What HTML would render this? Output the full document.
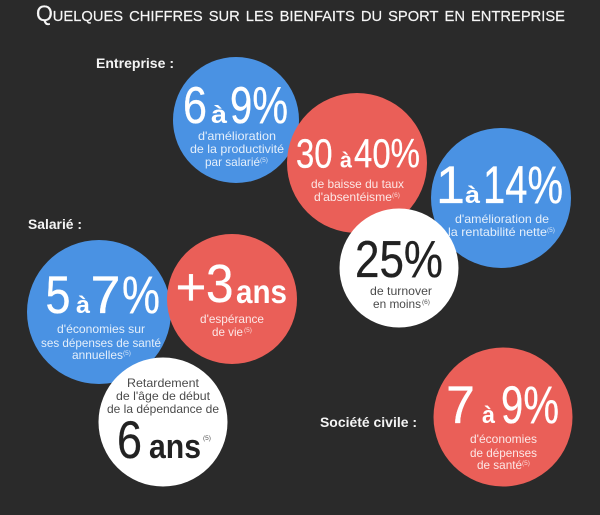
<!DOCTYPE html>
<html lang="fr">
<head>
<meta charset="utf-8">
<title>Quelques chiffres sur les bienfaits du sport en entreprise</title>
<style>
html,body{margin:0;padding:0;background:#2a2a2a;}
svg{display:block;}
text{font-family:"Liberation Sans","DejaVu Sans",sans-serif;}
.t{font-size:12px;fill:#fff;fill-opacity:.85;}
.d{font-size:12px;fill:#2a2a2a;fill-opacity:.85;}
.s{font-size:6px;fill:#fff;fill-opacity:.75;}
.sd{font-size:6px;fill:#555;}
.h{font-size:14px;font-weight:bold;fill:#f4f4f4;}
.b{fill:#fff;}
.k{fill:#222;}
.a{font-weight:bold;}
.wn{fill:#fff;stroke:#fff;stroke-width:.3;stroke-linejoin:round;}
.kn{fill:#222;stroke:#222;stroke-width:.3;stroke-linejoin:round;}
</style>
</head>
<body>
<svg width="600" height="515" viewBox="0 0 600 515" xmlns="http://www.w3.org/2000/svg">
<rect width="600" height="515" fill="#2a2a2a"/>
<text x="36" y="21" textLength="529" lengthAdjust="spacingAndGlyphs" style="font-size:22px;font-variant:small-caps;fill:#f6f6f6;stroke:#f6f6f6;stroke-width:.2">Quelques chiffres sur les bienfaits du sport en entreprise</text>

<text class="h" x="96" y="68" textLength="78" lengthAdjust="spacingAndGlyphs">Entreprise :</text>
<text class="h" x="28" y="229" textLength="54" lengthAdjust="spacingAndGlyphs">Salarié :</text>
<text class="h" x="320" y="427" textLength="97" lengthAdjust="spacingAndGlyphs">Société civile :</text>

<g>
<circle cx="236" cy="120" r="63" fill="#4a92e3"/>
<text class="wn" x="183" y="123" textLength="24" lengthAdjust="spacingAndGlyphs" font-size="52">6</text>
<text class="b a" x="211" y="123" textLength="16" lengthAdjust="spacingAndGlyphs" font-size="25">à</text>
<text class="wn" x="230" y="123" textLength="58" lengthAdjust="spacingAndGlyphs" font-size="52">9%</text>
<text class="t" x="198" y="140" textLength="78" lengthAdjust="spacingAndGlyphs">d'amélioration</text>
<text class="t" x="190" y="153" textLength="94" lengthAdjust="spacingAndGlyphs">de la productivité</text>
<text class="t" x="205" y="166" textLength="55" lengthAdjust="spacingAndGlyphs">par salarié</text>
<text class="s" x="260" y="162" textLength="8" lengthAdjust="spacingAndGlyphs">(5)</text>
</g>

<g>
<circle cx="357" cy="163" r="70" fill="#ea5f58"/>
<text class="wn" x="296" y="167.500" textLength="36.500" lengthAdjust="spacingAndGlyphs" font-size="41">30</text>
<text class="b a" x="340" y="167.500" textLength="12" lengthAdjust="spacingAndGlyphs" font-size="22">à</text>
<text class="wn" x="354" y="167.500" textLength="66" lengthAdjust="spacingAndGlyphs" font-size="41">40%</text>
<text class="t" x="311" y="188" textLength="93" lengthAdjust="spacingAndGlyphs">de baisse du taux</text>
<text class="t" x="314" y="201" textLength="78" lengthAdjust="spacingAndGlyphs">d'absentéisme</text>
<text class="s" x="392" y="197" textLength="8" lengthAdjust="spacingAndGlyphs">(6)</text>
</g>

<g>
<circle cx="501" cy="198" r="70" fill="#4a92e3"/>
<text class="wn" x="436" y="203" textLength="29" lengthAdjust="spacingAndGlyphs" font-size="53">1</text>
<text class="b a" x="465" y="203" textLength="15" lengthAdjust="spacingAndGlyphs" font-size="24">à</text>
<text class="wn" x="483" y="203" textLength="80" lengthAdjust="spacingAndGlyphs" font-size="53">14%</text>
<text class="t" x="455" y="223" textLength="94" lengthAdjust="spacingAndGlyphs">d'amélioration de</text>
<text class="t" x="448" y="236" textLength="99" lengthAdjust="spacingAndGlyphs">la rentabilité nette</text>
<text class="s" x="547" y="232" textLength="8" lengthAdjust="spacingAndGlyphs">(5)</text>
</g>

<g>
<circle cx="399" cy="268" r="59.500" fill="#fff"/>
<text class="kn" x="355" y="277" textLength="88" lengthAdjust="spacingAndGlyphs" font-size="52">25%</text>
<text class="d" x="370" y="295" textLength="62" lengthAdjust="spacingAndGlyphs">de turnover</text>
<text class="d" x="373" y="308" textLength="48" lengthAdjust="spacingAndGlyphs">en moins</text>
<text class="sd" x="422" y="304" textLength="8" lengthAdjust="spacingAndGlyphs">(6)</text>
</g>

<g>
<circle cx="99" cy="312" r="72" fill="#4a92e3"/>
<text class="wn" x="45.500" y="313" textLength="25" lengthAdjust="spacingAndGlyphs" font-size="53">5</text>
<text class="b a" x="76" y="313" textLength="14" lengthAdjust="spacingAndGlyphs" font-size="24">à</text>
<text class="wn" x="90.500" y="313" textLength="30" lengthAdjust="spacingAndGlyphs" font-size="53">7</text>
<text class="wn" x="122" y="313" textLength="38" lengthAdjust="spacingAndGlyphs" font-size="53">%</text>
<text class="t" x="57" y="333" textLength="88" lengthAdjust="spacingAndGlyphs">d'économies sur</text>
<text class="t" x="41" y="347" textLength="120" lengthAdjust="spacingAndGlyphs">ses dépenses de santé</text>
<text class="t" x="72" y="359" textLength="51" lengthAdjust="spacingAndGlyphs">annuelles</text>
<text class="s" x="123" y="355" textLength="8" lengthAdjust="spacingAndGlyphs">(5)</text>
</g>

<g>
<circle cx="232" cy="299" r="65" fill="#ea5f58"/>
<text class="wn" x="175.500" y="305" textLength="31" lengthAdjust="spacingAndGlyphs" font-size="54">+</text>
<text class="wn" x="206" y="302" textLength="27.600" lengthAdjust="spacingAndGlyphs" font-size="54">3</text>
<text class="b a" x="236" y="303" textLength="51" lengthAdjust="spacingAndGlyphs" font-size="33">ans</text>
<text class="t" x="200" y="323" textLength="64" lengthAdjust="spacingAndGlyphs">d'espérance</text>
<text class="t" x="212" y="336" textLength="31" lengthAdjust="spacingAndGlyphs">de vie</text>
<text class="s" x="244" y="332" textLength="8" lengthAdjust="spacingAndGlyphs">(5)</text>
</g>

<g>
<circle cx="163" cy="422" r="64.500" fill="#fff"/>
<text class="d" x="127" y="387" textLength="72" lengthAdjust="spacingAndGlyphs">Retardement</text>
<text class="d" x="116" y="400" textLength="94" lengthAdjust="spacingAndGlyphs">de l'âge de début</text>
<text class="d" x="107" y="413" textLength="112" lengthAdjust="spacingAndGlyphs">de la dépendance de</text>
<text class="kn" x="117" y="458" textLength="25" lengthAdjust="spacingAndGlyphs" font-size="53">6</text>
<text class="k a" x="149" y="458" textLength="52" lengthAdjust="spacingAndGlyphs" font-size="34">ans</text>
<text class="sd" x="203" y="440" textLength="8" lengthAdjust="spacingAndGlyphs">(5)</text>
</g>

<g>
<circle cx="503" cy="417" r="69.500" fill="#ea5f58"/>
<text class="wn" x="446" y="423" textLength="29" lengthAdjust="spacingAndGlyphs" font-size="53">7</text>
<text class="b a" x="482" y="423" textLength="13" lengthAdjust="spacingAndGlyphs" font-size="24">à</text>
<text class="wn" x="501" y="423" textLength="58" lengthAdjust="spacingAndGlyphs" font-size="53">9%</text>
<text class="t" x="470" y="443" textLength="67" lengthAdjust="spacingAndGlyphs">d'économies</text>
<text class="t" x="470" y="457" textLength="67" lengthAdjust="spacingAndGlyphs">de dépenses</text>
<text class="t" x="477" y="469" textLength="45" lengthAdjust="spacingAndGlyphs">de santé</text>
<text class="s" x="522" y="465" textLength="8" lengthAdjust="spacingAndGlyphs">(5)</text>
</g>
</svg>
</body>
</html>
